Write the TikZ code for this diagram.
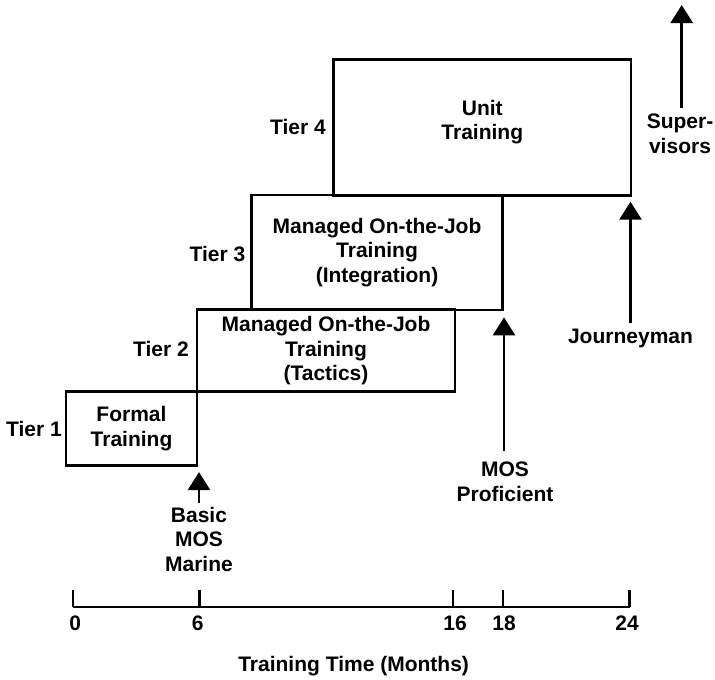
\documentclass[tikz,border=0pt]{standalone}
\usepackage{fontspec}
\setmainfont{Liberation Sans}
\usetikzlibrary{arrows.meta}
\begin{document}
\begin{tikzpicture}[x=1pt,y=-1pt,
  every node/.style={font=\fontsize{21}{24.3}\selectfont\bfseries, text=black},
  box/.style={draw, line width=2.8pt, inner sep=0pt, align=center},
  lbl/.style={inner sep=0pt, align=center},
  arr/.style={line width=2.8pt, -{Triangle[length=18pt,width=22pt]}},
  axisline/.style={line width=2.8pt}]
\useasboundingbox (0,0) rectangle (715,680);
% boxes
\node[box, minimum width=131pt, minimum height=74pt] (t1) at (131.5,428.7) {Formal\\Training};
\node[box, minimum width=258pt, minimum height=82pt] (t2) at (326,350.8) {Managed On-the-Job\\Training\\(Tactics)};
\node[box, minimum width=251pt, minimum height=115pt] (t3) at (377,252.5) {Managed On-the-Job\\Training\\(Integration)};
\node[box, minimum width=297.5pt, minimum height=136pt,
  label={[lbl,yshift=5pt]center:{Unit\\Training}}] (t4) at (482.3,127.3) {};
% tier labels
\node[lbl, anchor=east] (l1) at (62,429) {Tier 1};
\node[lbl, anchor=east] (l2) at (189,349) {Tier 2};
\node[lbl, anchor=east] (l3) at (245.5,254) {Tier 3};
\node[lbl, anchor=east] (l4) at (326,127) {Tier 4};
% milestone labels and arrows
\node[lbl, anchor=north] (basic) at (199,507) {Basic\\MOS\\Marine};
\draw[arr, shorten <=4pt, shorten >=5pt] (basic.north) -- (basic.north |- t1.south);
\node[lbl, anchor=north] (mos) at (505,462) {MOS\\Proficient};
\draw[arr, shorten <=11pt, shorten >=6pt] ([xshift=-1pt]mos.north) -- ([xshift=-1pt]mos.north |- t3.south);
\node[lbl, anchor=north] (journey) at (630.5,329) {Journeyman};
\draw[arr, shorten <=6pt, shorten >=5pt] (journey.north) -- (journey.north |- t4.south);
\node[lbl, anchor=north] (sup) at (680,114) {Super-\\visors};
\coordinate (top) at (681.7,5);
\draw[arr, shorten <=6pt] ([xshift=1.7pt]sup.north) -- (top);
% axis
\coordinate (a0) at (73,607);
\coordinate (a6) at (199.4,607);
\coordinate (a16) at (453,607);
\coordinate (a18) at (503,607);
\coordinate (a24) at (629.7,607);
\draw[axisline] (a0) -- (a24);
\foreach \c in {a0,a6,a16,a18,a24} \draw[axisline] (\c) -- ++(0,-17);
\node[lbl, anchor=north] (n0) at (75.3,616) {0};
\node[lbl, anchor=north] (n6) at (197.6,616) {6};
\node[lbl, anchor=north] (n16) at (455,616) {16};
\node[lbl, anchor=north] (n18) at (504,616) {18};
\node[lbl, anchor=north] (n24) at (627,616) {24};
\node[lbl] (title) at (353.6,665.7) {Training Time (Months)};
\end{tikzpicture}
\end{document}
